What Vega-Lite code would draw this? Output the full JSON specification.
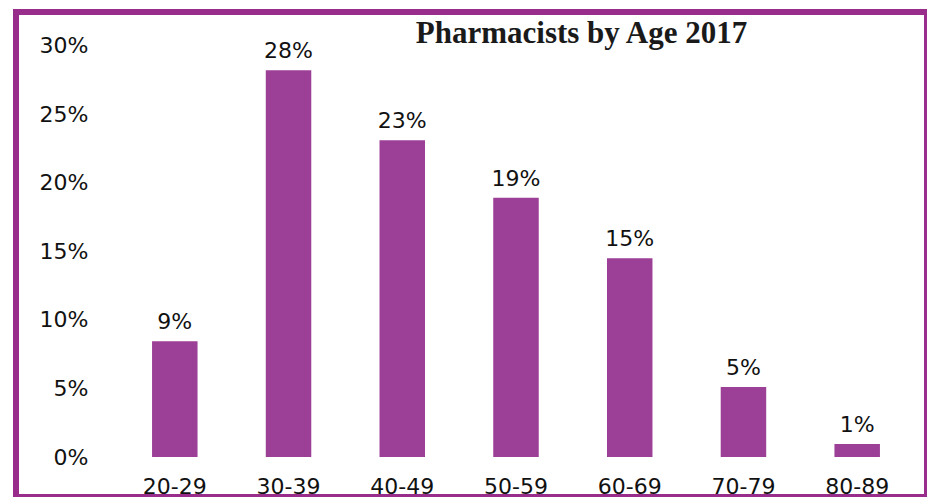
{
  "$schema": "https://vega.github.io/schema/vega-lite/v6.json",
  "autosize": {"type": "none"},
  "padding": {"left": 16, "top": 12, "right": 0, "bottom": 0},
  "width": 911,
  "height": 485,
  "background": "white",
  "config": {
    "view": {"stroke": "#982D8C", "strokeWidth": 6},
    "font": "DejaVu Sans"
  },
  "title": {
    "text": "Pharmacists by Age 2017",
    "font": "Liberation Serif",
    "fontSize": 31,
    "fontWeight": "bold",
    "color": "#1a1a1a",
    "anchor": "middle",
    "baseline": "alphabetic",
    "offset": 0,
    "dx": 110,
    "dy": 62
  },
  "data": {
    "values": [
      {"age": "20-29", "share": 0.0845, "label": "9%"},
      {"age": "30-39", "share": 0.282, "label": "28%"},
      {"age": "40-49", "share": 0.231, "label": "23%"},
      {"age": "50-59", "share": 0.189, "label": "19%"},
      {"age": "60-69", "share": 0.145, "label": "15%"},
      {"age": "70-79", "share": 0.051, "label": "5%"},
      {"age": "80-89", "share": 0.0095, "label": "1%"}
    ]
  },
  "encoding": {
    "x": {
      "field": "age",
      "type": "nominal",
      "sort": null,
      "scale": {"paddingInner": 0.6, "paddingOuter": 0.805, "align": 0.743},
      "axis": {
        "title": null,
        "domain": false,
        "ticks": false,
        "tickSize": 0,
        "labelPadding": 0,
        "offset": -4,
        "labelAngle": 0,
        "labelBaseline": "alphabetic",
        "labelFont": "DejaVu Sans",
        "labelFontSize": 22,
        "labelColor": "#111111"
      }
    },
    "y": {
      "field": "share",
      "type": "quantitative",
      "scale": {"domain": [-0.0291, 0.3244], "nice": false, "zero": false},
      "axis": {
        "title": null,
        "domain": false,
        "ticks": false,
        "tickSize": 0,
        "grid": false,
        "labelPadding": 0,
        "offset": -72,
        "values": [0, 0.05, 0.1, 0.15, 0.2, 0.25, 0.3],
        "format": ".0%",
        "labelFont": "DejaVu Sans",
        "labelFontSize": 22,
        "labelColor": "#111111"
      }
    }
  },
  "layer": [
    {
      "mark": {"type": "bar", "color": "#9C3F96"},
      "encoding": {"y2": {"datum": 0}}
    },
    {
      "mark": {"type": "text", "baseline": "alphabetic", "dy": -12, "font": "DejaVu Sans", "fontSize": 22, "color": "#111111"},
      "encoding": {"text": {"field": "label"}}
    }
  ]
}
